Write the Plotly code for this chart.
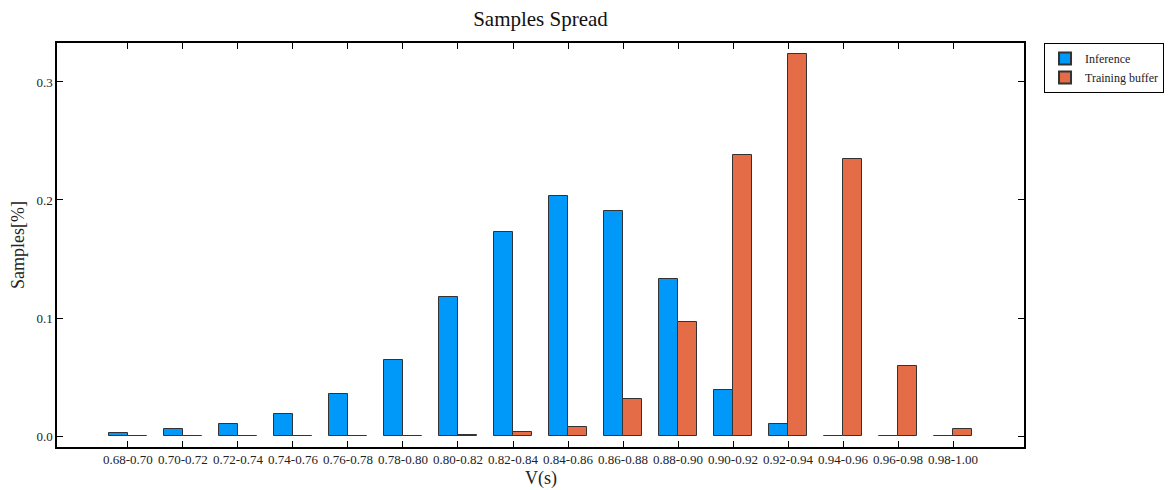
import plotly.graph_objects as go

categories = ["0.68-0.70", "0.70-0.72", "0.72-0.74", "0.74-0.76", "0.76-0.78",
              "0.78-0.80", "0.80-0.82", "0.82-0.84", "0.84-0.86", "0.86-0.88",
              "0.88-0.90", "0.90-0.92", "0.92-0.94", "0.94-0.96", "0.96-0.98",
              "0.98-1.00"]
inference = [0.0025, 0.0057, 0.0099, 0.0186, 0.0355, 0.064, 0.118, 0.173,
             0.203, 0.191, 0.133, 0.039, 0.0102, 0.0, 0.0, 0.0]
training_buffer = [0.0, 0.0, 0.0, 0.0, 0.0, 0.0, 0.0006, 0.0037, 0.0079,
                   0.031, 0.097, 0.238, 0.324, 0.235, 0.059, 0.006]
y_ticks = [0.0, 0.1, 0.2, 0.3]

idx = list(range(len(categories)))
W = 0.345
FONT = "Liberation Serif"
L, R, T, B = 57, 148, 43, 43
PW, PH = 1172 - L - R, 490 - T - B

fig = go.Figure()
fig.add_bar(x=idx, y=inference, name="Inference", width=W, offset=-W,
            marker=dict(color="#0099fa", line=dict(color="#333333", width=1)))
fig.add_bar(x=idx, y=training_buffer, name="Training buffer", width=W, offset=0,
            marker=dict(color="#e46c47", line=dict(color="#333333", width=1)))

fig.update_layout(
    width=1172, height=490,
    margin=dict(l=L, r=R, t=T, b=B, autoexpand=False),
    paper_bgcolor="white", plot_bgcolor="white",
    font=dict(family=FONT, color="#222222", size=13),
    title=dict(text="Samples Spread", x=(L + 1172 - R) / 2 / 1172, xanchor="center",
               y=1 - 19 / 490, yanchor="middle", font=dict(size=21, family=FONT, color="#111111")),
    showlegend=True,
    legend=dict(x=1.0207, y=1.0, xanchor="left", yanchor="top",
                bordercolor="black", borderwidth=1, bgcolor="white",
                font=dict(size=12, family=FONT), tracegroupgap=0,
                itemsizing="constant", itemwidth=30),
    bargap=0,
    annotations=[
        dict(text="V(s)", xref="paper", yref="paper", x=0.5, y=-(478 - 447) / PH,
             xanchor="center", yanchor="middle", showarrow=False,
             font=dict(size=18, family=FONT, color="#222222")),
        dict(text="Samples[%]", xref="paper", yref="paper", x=-(57 - 18) / PW, y=0.5,
             xanchor="center", yanchor="middle", showarrow=False, textangle=-90,
             font=dict(size=18, family=FONT, color="#222222")),
    ],
)
fig.update_xaxes(
    range=[-1.29, 16.29], tickmode="array", tickvals=idx, ticktext=categories,
    ticks="inside", ticklen=6, tickcolor="black", mirror="allticks", automargin=False,
    showline=True, linecolor="black", linewidth=1.5, showgrid=False, zeroline=False,
    tickfont=dict(size=13, family=FONT),
)
fig.update_yaxes(
    range=[-0.0093, 0.333], tickmode="array", tickvals=y_ticks,
    ticktext=[f"{v:.1f}" for v in y_ticks], automargin=False,
    ticks="inside", ticklen=6, tickcolor="black", mirror="allticks",
    showline=True, linecolor="black", linewidth=1.5, showgrid=False, zeroline=False,
    tickfont=dict(size=13, family=FONT),
)

fig.write_html("out.html", config={"displayModeBar": False},
               post_script="document.body.style.margin='0';")
